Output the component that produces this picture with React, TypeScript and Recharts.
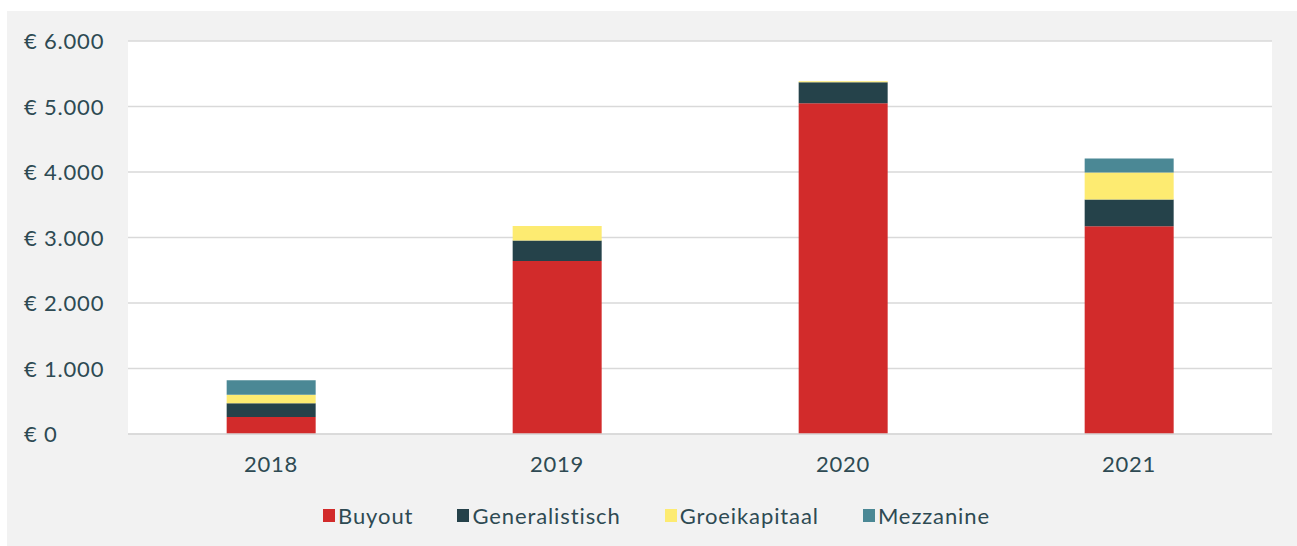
import { BarChart, Bar, XAxis, YAxis, CartesianGrid, Legend } from "recharts";

const years = ["2018", "2019", "2020", "2021"];
const buyout = [260, 2640, 5050, 3170];
const generalistisch = [210, 315, 320, 412];
const groeikapitaal = [130, 220, 15, 412];
const mezzanine = [220, 0, 0, 214];
const yTicks = [0, 1000, 2000, 3000, 4000, 5000, 6000];

const series = [
  { key: "Buyout", color: "#D22B2B" },
  { key: "Generalistisch", color: "#25424A" },
  { key: "Groeikapitaal", color: "#FDEB71" },
  { key: "Mezzanine", color: "#4B8895" },
];

const data = years.map((year, i) => ({
  year,
  Buyout: buyout[i],
  Generalistisch: generalistisch[i],
  Groeikapitaal: groeikapitaal[i],
  Mezzanine: mezzanine[i],
}));

const TEXT = "#2E4A53";
const FONT = "Lato, 'Noto Sans', sans-serif";

const euro = (v: number) =>
  "€ " + v.toString().replace(/\B(?=(\d{3})+(?!\d))/g, ".");

const YTick = (props: any) => {
  const { y, payload } = props;
  return (
    <text x={17} y={y} dy={8} textAnchor="start" fill={TEXT} fontSize={22} letterSpacing={0.8} fontFamily={FONT}>
      {euro(payload.value)}
    </text>
  );
};

const LegendContent = () => (
  <div
    style={{
      height: 62,
      display: "flex",
      justifyContent: "center",
      alignItems: "center",
      gap: 44,
      paddingLeft: 34,
      boxSizing: "border-box",
      fontFamily: FONT,
      fontSize: 22,
      letterSpacing: 0.9,
      color: TEXT,
    }}
  >
    {series.map((s) => (
      <div key={s.key} style={{ display: "flex", alignItems: "center" }}>
        <span style={{ width: 12, height: 13, background: s.color, marginRight: 3, display: "inline-block" }} />
        <span>{s.key}</span>
      </div>
    ))}
  </div>
);

const App = () => {
  return (
    <div style={{ position: "absolute", left: 7, top: 11, background: "#F2F2F2", width: 1290, height: 535 }}>
      <BarChart
        width={1290}
        height={535}
        data={data}
        margin={{ top: 30, right: 25, left: 0, bottom: 0 }}
        barCategoryGap="34.5%"
      >
        <CartesianGrid vertical={false} fill="#FFFFFF" stroke="#D9D9D9" strokeWidth={1.5} />
        <XAxis
          dataKey="year"
          height={50}
          tickLine={false}
          axisLine={{ stroke: "#D9D9D9", strokeWidth: 1.5 }}
          tick={{ fill: TEXT, fontSize: 22, letterSpacing: 0.8, fontFamily: FONT }}
          tickMargin={16}
        />
        <YAxis
          width={121}
          domain={[0, 6000]}
          ticks={yTicks}
          interval={0}
          axisLine={false}
          tickLine={false}
          tick={<YTick />}
        />
        <Legend verticalAlign="bottom" content={<LegendContent />} />
        {series.map((s) => (
          <Bar key={s.key} dataKey={s.key} stackId="a" fill={s.color} isAnimationActive={false} />
        ))}
      </BarChart>
    </div>
  );
};

export default App;
